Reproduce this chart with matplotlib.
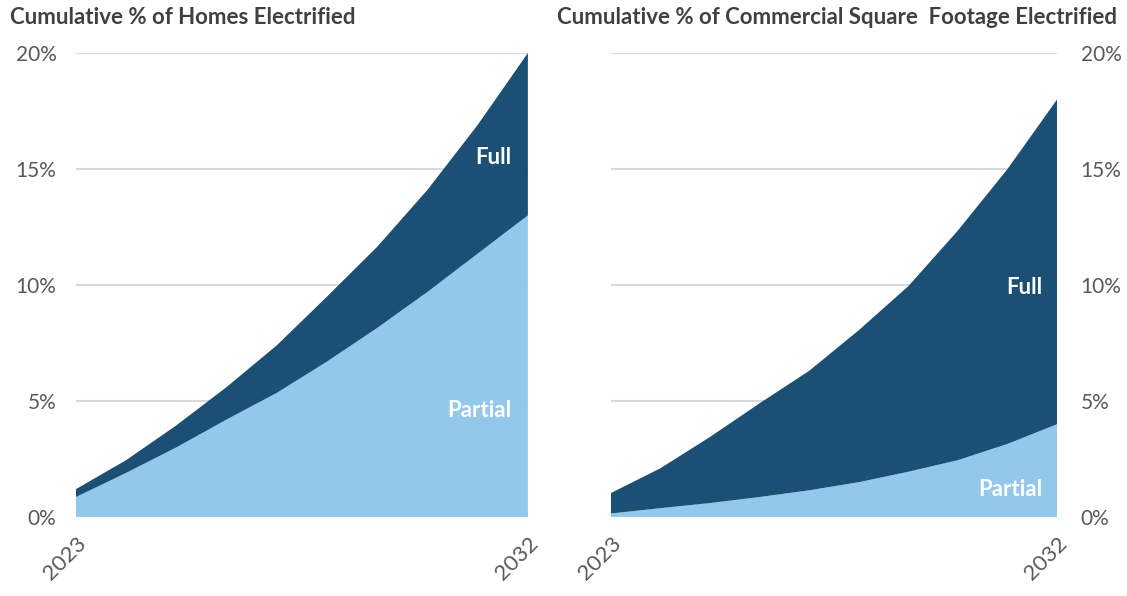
import numpy as np
import matplotlib.pyplot as plt
from matplotlib.ticker import FuncFormatter

plt.rcParams['font.family'] = ['Lato', 'DejaVu Sans']

years = list(range(2023, 2033))

# cumulative share of homes electrified (%)
homes_partial = [0.86, 1.9, 3.0, 4.2, 5.35, 6.7, 8.15, 9.7, 11.35, 13.0]
homes_total = [1.2, 2.45, 3.95, 5.6, 7.4, 9.5, 11.65, 14.1, 16.9, 20.0]

# cumulative share of commercial square footage electrified (%)
comm_partial = [0.15, 0.38, 0.6, 0.86, 1.15, 1.5, 1.95, 2.45, 3.15, 4.0]
comm_total = [1.03, 2.1, 3.45, 4.9, 6.3, 8.05, 9.95, 12.35, 15.0, 18.0]

dark = '#1b5074'
light = '#93c8ea'
grid_c = '#d9d9d9'
tick_c = '#595959'
title_c = '#404040'

fig = plt.figure(figsize=(11.27, 5.96), dpi=100)
ax1 = fig.add_axes([0.0674, 0.1326, 0.401, 0.7785])
ax2 = fig.add_axes([0.542, 0.1326, 0.396, 0.7785])


def draw(ax, partial, total, side):
    full = np.array(total) - np.array(partial)
    ax.stackplot(years, partial, full, colors=[light, dark], linewidth=0, zorder=2)
    ax.set_xlim(years[0], years[-1])
    ax.set_ylim(0, 20)
    ax.set_yticks([0, 5, 10, 15, 20])
    ax.yaxis.set_major_formatter(FuncFormatter(lambda v, p: f'{v:.0f}%'))
    ax.set_xticks([years[0], years[-1]])
    ax.set_xticklabels([str(years[0]), str(years[-1])], rotation=45,
                       ha='right', va='top', rotation_mode='anchor')
    ax.grid(axis='y', color=grid_c, linewidth=1.5, zorder=0)
    for s in ax.spines.values():
        s.set_visible(False)
    ax.tick_params(length=0, labelsize=15, colors=tick_c)
    ax.tick_params(axis='x', pad=12, labelsize=16)
    if side == 'right':
        ax.yaxis.tick_right()
        ax.tick_params(axis='y', pad=17)
    else:
        ax.tick_params(axis='y', pad=14)


draw(ax1, homes_partial, homes_total, 'left')
draw(ax2, comm_partial, comm_total, 'right')

fig.text(0.009, 0.971, 'Cumulative % of Homes Electrified', fontsize=16,
         fontweight='bold', color=title_c, va='center', ha='left')
fig.text(0.991, 0.971, 'Cumulative % of Commercial Square  Footage Electrified',
         fontsize=16, fontweight='bold', color=title_c, va='center', ha='right')

lab = dict(color='white', fontsize=16, fontweight='bold', va='center')
ax1.text(2031.67, 15.5, 'Full', ha='right', **lab)
ax1.text(2031.67, 4.6, 'Partial', ha='right', **lab)
ax2.text(2031.7, 9.9, 'Full', ha='right', **lab)
ax2.text(2031.7, 1.2, 'Partial', ha='right', **lab)

fig.savefig('out.png', dpi=100, facecolor='white')
